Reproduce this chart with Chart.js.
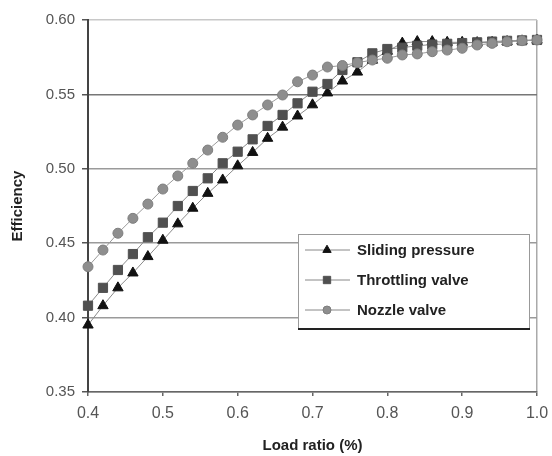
<!DOCTYPE html>
<html>
<head>
<meta charset="utf-8">
<script src="https://cdn.jsdelivr.net/npm/chart.js@4.4.0/dist/chart.umd.min.js"></script>
<style>
    body { margin: 0; background: #fff; }
    #wrap { width: 552px; height: 456px; }
</style>
</head>
<body>
<div id="wrap"><canvas id="effChart" width="552" height="456"></canvas></div>
<script>
var loadRatio = [0.40, 0.42, 0.44, 0.46, 0.48, 0.50, 0.52, 0.54, 0.56, 0.58,
                 0.60, 0.62, 0.64, 0.66, 0.68, 0.70, 0.72, 0.74, 0.76, 0.78,
                 0.80, 0.82, 0.84, 0.86, 0.88, 0.90, 0.92, 0.94, 0.96, 0.98, 1.00];
var slidingPressure = [0.395, 0.408, 0.420, 0.430, 0.441, 0.452, 0.463, 0.4735, 0.4835, 0.4925,
                       0.502, 0.511, 0.5205, 0.528, 0.5355, 0.543, 0.551, 0.559, 0.565, 0.573,
                       0.579, 0.5845, 0.5855, 0.5855, 0.585, 0.585, 0.5848, 0.585, 0.5855, 0.586, 0.5865];
var throttlingValve = [0.408, 0.420, 0.432, 0.4427, 0.454, 0.4638, 0.475, 0.4851, 0.4936, 0.5037,
                       0.5115, 0.5198, 0.5288, 0.5362, 0.544, 0.5518, 0.557, 0.5664, 0.5716, 0.5776,
                       0.5805, 0.5814, 0.5827, 0.5835, 0.584, 0.5845, 0.585, 0.5855, 0.586, 0.5863, 0.5866];
var nozzleValve = [0.4342, 0.4454, 0.4567, 0.4667, 0.4763, 0.4864, 0.4952, 0.5037, 0.5126, 0.5212,
                   0.5294, 0.5362, 0.5429, 0.5496, 0.5585, 0.563, 0.5684, 0.5694, 0.5713, 0.5731,
                   0.5743, 0.5765, 0.5772, 0.5787, 0.5798, 0.581, 0.5832, 0.5843, 0.5854, 0.5861, 0.5866];
var seriesNames = ['Sliding pressure', 'Throttling valve', 'Nozzle valve'];
var xTicks = [0.4, 0.5, 0.6, 0.7, 0.8, 0.9, 1.0];
var yTicks = [0.35, 0.40, 0.45, 0.50, 0.55, 0.60];

Chart.defaults.font.family = '"Liberation Sans", Arial, sans-serif';

function points(values) {
    return loadRatio.map(function(x, i) { return { x: x, y: values[i] }; });
}

// legend box drawn inside the plot, like the original
var boxLegend = {
    id: 'boxLegend',
    afterDraw: function(chart) {
        var ctx = chart.ctx;
        var area = chart.chartArea;
        var x = area.right - 239, y = area.top + 214, w = 231, h = 94;
        ctx.save();
        ctx.fillStyle = '#fff';
        ctx.fillRect(x, y, w, h);
        ctx.strokeStyle = '#999';
        ctx.lineWidth = 1;
        ctx.strokeRect(x + 0.5, y + 0.5, w, h);
        ctx.strokeStyle = '#222';
        ctx.lineWidth = 2;
        ctx.beginPath();
        ctx.moveTo(x, y + h + 1);
        ctx.lineTo(x + w + 1, y + h + 1);
        ctx.stroke();

        chart.data.datasets.forEach(function(ds, i) {
            var rowY = y + 16 + i * 30;
            ctx.strokeStyle = '#888';
            ctx.lineWidth = 1;
            ctx.beginPath();
            ctx.moveTo(x + 7, rowY);
            ctx.lineTo(x + 52, rowY);
            ctx.stroke();
            ctx.fillStyle = ds.pointBackgroundColor;
            ctx.strokeStyle = ds.pointBorderColor;
            Chart.helpers.drawPoint(ctx, {
                pointStyle: ds.pointStyle,
                radius: ds.pointRadius * 0.8,
                borderWidth: 1,
                rotation: 0
            }, x + 29, rowY);
            ctx.fillStyle = '#222';
            ctx.font = 'bold 15px "Liberation Sans", Arial, sans-serif';
            ctx.textBaseline = 'middle';
            ctx.textAlign = 'left';
            ctx.fillText(ds.label, x + 59, rowY + 1);
        });
        ctx.restore();
    }
};

var ctx = document.getElementById('effChart').getContext('2d');
var effChart = new Chart(ctx, {
    type: 'line',
    data: {
        datasets: [{
            label: seriesNames[0],
            data: points(slidingPressure),
            borderColor: '#8a8a8a',
            borderWidth: 1,
            pointStyle: 'triangle',
            pointRadius: 6,
            pointBackgroundColor: '#111',
            pointBorderColor: '#111',
            pointBorderWidth: 1,
            order: 3,
            clip: false
        }, {
            label: seriesNames[1],
            data: points(throttlingValve),
            borderColor: '#8a8a8a',
            borderWidth: 1,
            pointStyle: 'rect',
            pointRadius: 6.5,
            pointBackgroundColor: '#505050',
            pointBorderColor: '#505050',
            pointBorderWidth: 1,
            order: 2,
            clip: false
        }, {
            label: seriesNames[2],
            data: points(nozzleValve),
            borderColor: '#9a9a9a',
            borderWidth: 1,
            pointStyle: 'circle',
            pointRadius: 5,
            pointBackgroundColor: '#8e8e8e',
            pointBorderColor: '#7e7e7e',
            pointBorderWidth: 1,
            order: 1,
            clip: false
        }]
    },
    options: {
        responsive: false,
        animation: false,
        layout: { padding: { top: 20, right: 0, left: 0, bottom: 0 } },
        plugins: {
            legend: { display: false },
            tooltip: { enabled: false }
        },
        scales: {
            x: {
                type: 'linear',
                min: 0.4,
                max: 1.0,
                afterBuildTicks: function(scale) {
                    scale.ticks = xTicks.map(function(v) { return { value: v }; });
                },
                afterFit: function(scale) {
                    scale.height = 64;
                    scale.paddingRight = 15;
                },
                ticks: {
                    color: '#555',
                    font: { size: 16 },
                    padding: 8,
                    maxRotation: 0,
                    callback: function(v) { return v.toFixed(1); }
                },
                grid: {
                    color: function(c) {
                        return c.tick && c.tick.value > 0.999 ? '#aaa' : 'rgba(0,0,0,0)';
                    },
                    lineWidth: 1.5,
                    tickColor: '#666',
                    tickLength: 4
                },
                border: { color: '#666', width: 1.5 },
                title: {
                    display: true,
                    text: 'Load ratio (%)',
                    color: '#222',
                    font: { size: 15, weight: 'bold' },
                    padding: { top: 0, bottom: 1 }
                }
            },
            y: {
                min: 0.35,
                max: 0.60,
                afterBuildTicks: function(scale) {
                    scale.ticks = yTicks.map(function(v) { return { value: v }; });
                },
                afterFit: function(scale) { scale.width = 88; },
                ticks: {
                    color: '#555',
                    font: { size: 15 },
                    padding: 7,
                    callback: function(v) { return v.toFixed(2); }
                },
                grid: {
                    color: function(c) {
                        var v = c.tick ? c.tick.value : 0;
                        if (Math.abs(v - 0.60) < 1e-6) return '#c8c8c8';
                        if (Math.abs(v - 0.55) < 1e-6) return '#777';
                        return '#9a9a9a';
                    },
                    lineWidth: 1.5,
                    tickColor: '#555',
                    tickLength: 6
                },
                border: { color: '#444', width: 2 },
                title: {
                    display: true,
                    text: 'Efficiency',
                    color: '#222',
                    font: { size: 15, weight: 'bold' },
                    padding: { top: 9, bottom: 0 }
                }
            }
        }
    },
    plugins: [boxLegend]
});
</script>
</body>
</html>
